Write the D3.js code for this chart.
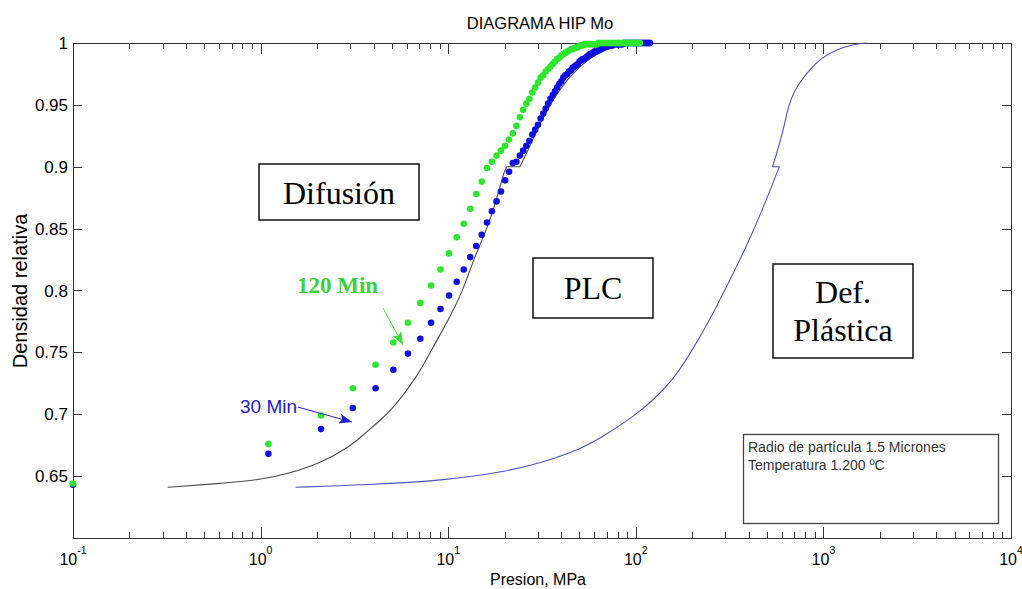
<!DOCTYPE html>
<html>
<head>
<meta charset="utf-8">
<script src="https://cdn.jsdelivr.net/npm/d3@7"></script>
<style>
body { margin: 0; background: #fff; }
text { font-family: "Liberation Sans", Arial, sans-serif; }
text.serif { font-family: "Liberation Serif", "Times New Roman", serif; }
</style>
</head>
<body>
<div id="chart"></div>
<script>
var width = 1022;
var height = 589;
var plotLeft = 73, plotRight = 1011, plotTop = 43, plotBottom = 538;

// pressures of the measured points, MPa
var pressures = [0.1, 1.1, 2.1, 3.1, 4.1, 5.1, 6.1, 7.1, 8.1, 9.1,
	10.1, 11.1, 12.1, 13.1, 14.1, 15.1, 16.1, 17.1, 18.1, 19.1,
	20.1, 21.1, 22.1, 23.1, 24.1, 25.1, 26.1, 27.1, 28.1, 29.1,
	30.1, 31.1, 32.1, 33.1, 34.1, 35.1, 36.1, 37.1, 38.1, 39.1,
	40.1, 41.1, 42.1, 43.1, 44.1, 45.1, 46.1, 47.1, 48.1, 49.1,
	50.1, 51.1, 52.1, 53.1, 54.1, 55.1, 56.1, 57.1, 58.1, 59.1,
	60.1, 61.1, 62.1, 63.1, 64.1, 65.1, 66.1, 67.1, 68.1, 69.1,
	70.1, 71.1, 72.1, 73.1, 74.1, 75.1, 76.1, 77.1, 78.1, 79.1,
	80.1, 81.1, 82.1, 83.1, 84.1, 85.1, 86.1, 87.1, 88.1, 89.1,
	90.1, 91.1, 92.1, 93.1, 94.1, 95.1, 96.1, 97.1, 98.1, 99.1,
	100.1, 101.1, 102.1, 103.1, 104.1, 105.1, 106.1, 107.1, 108.1, 109.1,
	110.1, 111.1, 112.1, 113.1, 114.1, 115.1, 116.1, 117.1, 118.1, 119.1];

// relative density, 120 min (green dots)
var dens120 = [0.644, 0.676, 0.699, 0.721, 0.740, 0.758, 0.774, 0.790, 0.804, 0.817,
	0.830, 0.843, 0.854, 0.866, 0.878, 0.888, 0.899, 0.904, 0.909, 0.913,
	0.917, 0.922, 0.927, 0.933, 0.940, 0.946, 0.951, 0.955, 0.960, 0.964,
	0.968, 0.972, 0.974, 0.977, 0.979, 0.981, 0.983, 0.985, 0.987, 0.988,
	0.990, 0.991, 0.992, 0.993, 0.994, 0.995, 0.995, 0.996, 0.996, 0.997,
	0.998, 0.998, 0.998, 0.999, 0.999, 0.999, 0.999, 0.999, 0.999, 0.999,
	0.999, 0.999, 0.999, 1, 1, 1, 1, 1, 1, 1,
	1, 1, 1, 1, 1, 1, 1, 1, 1, 1,
	1, 1, 1, 1, 1, 1, 1, 1, 1, 1,
	1, 1, 1, 1, 1, 1, 1, 1, 1, 1,
	1, 1, 1, 1, 1, 1];

// relative density, 30 min (blue dots)
var dens30 = [0.643, 0.668, 0.688, 0.705, 0.721, 0.736, 0.749, 0.761, 0.774, 0.785,
	0.796, 0.807, 0.817, 0.827, 0.836, 0.845, 0.855, 0.864, 0.872, 0.880,
	0.889, 0.896, 0.903, 0.904, 0.909, 0.913, 0.917, 0.921, 0.926, 0.930,
	0.934, 0.939, 0.943, 0.947, 0.951, 0.955, 0.958, 0.961, 0.964, 0.967,
	0.969, 0.972, 0.974, 0.975, 0.977, 0.978, 0.980, 0.981, 0.982, 0.983,
	0.985, 0.986, 0.987, 0.987, 0.988, 0.989, 0.990, 0.991, 0.991, 0.992,
	0.993, 0.993, 0.994, 0.994, 0.995, 0.995, 0.996, 0.996, 0.997, 0.997,
	0.997, 0.998, 0.998, 0.998, 0.998, 0.998, 0.999, 0.999, 0.999, 0.999,
	0.999, 0.999, 0.999, 0.999, 0.999, 0.999, 1, 1, 1, 1,
	1, 1, 1, 1, 1, 1, 1, 1, 1, 1,
	1, 1, 1, 1, 1, 1, 1, 1, 1, 1,
	1, 1, 1, 1, 1, 1, 1, 1, 1, 1];

// black boundary curve (difusion / PLC), lower part up to the step at 0.9, then upper part
var plcLow = [[0.32, 0.641], [0.56, 0.6436], [1.0, 0.6469], [1.43, 0.6523], [2.07, 0.6603],
	[3.0, 0.6738], [3.68, 0.6859], [4.16, 0.6926], [5.1, 0.7048], [6.93, 0.7317],
	[8.32, 0.7545], [10, 0.776], [12, 0.80], [13.6, 0.8246], [16, 0.8488],
	[18.1, 0.873], [19.7, 0.8946], [20.5, 0.900]];
var plcHigh = [[24.1, 0.900], [26.2, 0.911], [32.1, 0.9406], [37.9, 0.9594], [48.4, 0.9798],
	[64.4, 0.9933], [79.1, 0.9973], [85.5, 0.9992], [96.6, 1.0]];

// blue boundary curve (PLC / plastic deformation), split at the step near 0.9
var plasticLow = [[1.54, 0.641], [3.68, 0.6428], [10, 0.6469], [18.9, 0.6528], [30.8, 0.6603],
	[52.5, 0.6725], [70, 0.684], [97, 0.698], [124, 0.7115], [158, 0.7276],
	[203, 0.7532], [259, 0.7815], [423, 0.846], [582, 0.900]];
var plasticHigh = [[536, 0.900], [607, 0.9269], [642, 0.9457], [691, 0.9605], [798, 0.974],
	[959, 0.9879], [1277, 0.9973], [1632, 1.0], [1700, 1.0]];

var yTicks = [0.65, 0.7, 0.75, 0.8, 0.85, 0.9, 0.95, 1];
var yTickLabels = ["0.65", "0.7", "0.75", "0.8", "0.85", "0.9", "0.95", "1"];
var xDecades = [-1, 0, 1, 2, 3, 4];

//colors
var green = '#2fe62f';
var blue = '#1010dd';
var plcColor = '#4a4a4a';
var plasticColor = '#5252c0';
var labelBlue = '#2020cc';

var svg = d3.select("#chart")
	.append("svg")
	.attr("width", width)
	.attr("height", height)
	.style("background", "#fff");

var x = d3.scaleLog().domain([0.1, 10000]).range([plotLeft, plotRight]);
var y = d3.scaleLinear().domain([0.6, 1]).range([plotBottom, plotTop]);

// title and axis labels
svg.append("text")
	.attr("x", 540).attr("y", 29)
	.attr("text-anchor", "middle")
	.style("font-size", "16.5px")
	.text("DIAGRAMA HIP Mo");

svg.append("text")
	.attr("x", 538).attr("y", 585)
	.attr("text-anchor", "middle")
	.style("font-size", "16px")
	.text("Presion, MPa");

svg.append("text")
	.attr("transform", "translate(27,291) rotate(-90)")
	.attr("text-anchor", "middle")
	.style("font-size", "20px")
	.text("Densidad relativa");

/******************** AXES ********************/
var axes = svg.append("g").attr("stroke", "#333").attr("stroke-width", 1);

var minor = [];
xDecades.slice(0, -1).forEach(function(d) {
	for (var m = 2; m <= 9; m++) minor.push(m * Math.pow(10, d));
});

xDecades.forEach(function(d) {
	var px = Math.round(x(Math.pow(10, d))) + 0.5;
	axes.append("line").attr("x1", px).attr("x2", px).attr("y1", plotBottom).attr("y2", plotBottom - 11);
	axes.append("line").attr("x1", px).attr("x2", px).attr("y1", plotTop).attr("y2", plotTop + 11);
});
minor.forEach(function(v) {
	var px = Math.round(x(v)) + 0.5;
	axes.append("line").attr("x1", px).attr("x2", px).attr("y1", plotBottom).attr("y2", plotBottom - 6);
	axes.append("line").attr("x1", px).attr("x2", px).attr("y1", plotTop).attr("y2", plotTop + 6);
});
yTicks.forEach(function(v) {
	var py = Math.round(y(v)) + 0.5;
	axes.append("line").attr("x1", plotLeft).attr("x2", plotLeft + 9).attr("y1", py).attr("y2", py);
	axes.append("line").attr("x1", plotRight).attr("x2", plotRight - 9).attr("y1", py).attr("y2", py);
});

axes.append("rect")
	.attr("x", plotLeft + 0.5).attr("y", plotTop + 0.5)
	.attr("width", plotRight - plotLeft).attr("height", plotBottom - plotTop)
	.attr("fill", "none");

// tick labels
svg.selectAll(".ylab")
	.data(yTicks)
	.enter().append("text")
	.attr("class", "ylab")
	.attr("x", plotLeft - 5)
	.attr("y", function(d) { return y(d) + 6; })
	.attr("text-anchor", "end")
	.style("font-size", "17px")
	.text(function(d, i) { return yTickLabels[i]; });

var xl = svg.selectAll(".xlab")
	.data(xDecades)
	.enter().append("text")
	.attr("class", "xlab")
	.attr("x", function(d) { return x(Math.pow(10, d)); })
	.attr("y", 565)
	.attr("text-anchor", "middle")
	.style("font-size", "16px");
xl.append("tspan").text("10");
xl.append("tspan")
	.attr("dy", -11)
	.style("font-size", "10.5px")
	.text(function(d) { return d; });

/******************** CURVES ********************/
var lineGen = d3.line()
	.x(function(d) { return x(d[0]); })
	.y(function(d) { return y(d[1]); })
	.curve(d3.curveBasis);

//join two smoothed parts with a straight step between them
function joined(a, b) {
	return lineGen(a) + lineGen(b).replace(/^M/, "L");
}

svg.append("path")
	.attr("d", joined(plcLow, plcHigh))
	.attr("fill", "none")
	.attr("stroke", plcColor)
	.attr("stroke-width", 1.1);

svg.append("path")
	.attr("d", joined(plasticLow, plasticHigh))
	.attr("fill", "none")
	.attr("stroke", plasticColor)
	.attr("stroke-width", 1.1);

/******************** DOTS ********************/
var pts30 = dens30.map(function(v, i) { return [pressures[i], v]; });
var pts120 = dens120.map(function(v, i) { return [pressures[i], v]; });

svg.append("g").selectAll("circle")
	.data(pts30)
	.enter().append("circle")
	.attr("cx", function(d) { return x(d[0]); })
	.attr("cy", function(d) { return y(d[1]); })
	.attr("r", 3.3)
	.attr("fill", blue);

svg.append("g").selectAll("circle")
	.data(pts120)
	.enter().append("circle")
	.attr("cx", function(d) { return x(d[0]); })
	.attr("cy", function(d) { return y(d[1]); })
	.attr("r", 3.3)
	.attr("fill", green);

/******************** ANNOTATIONS ********************/
var defs = svg.append("defs");
function arrowHead(id, color) {
	defs.append("marker")
		.attr("id", id)
		.attr("markerUnits", "userSpaceOnUse")
		.attr("markerWidth", 14).attr("markerHeight", 10)
		.attr("refX", 13).attr("refY", 5)
		.attr("orient", "auto")
		.append("path")
		.attr("d", "M0,0 L13,5 L0,10 L3,5 Z")
		.attr("fill", color);
}
arrowHead("arrGreen", green);
arrowHead("arrBlue", labelBlue);

// arrows in data coordinates [pressure, density]
var arrow120 = [[4.49, 0.7858], [5.74, 0.7562]];
var arrow30 = [[1.58, 0.7058], [3.07, 0.6937]];

svg.append("line")
	.attr("x1", x(arrow120[0][0])).attr("y1", y(arrow120[0][1]))
	.attr("x2", x(arrow120[1][0])).attr("y2", y(arrow120[1][1]))
	.attr("stroke", green).attr("stroke-width", 1)
	.attr("marker-end", "url(#arrGreen)");

svg.append("line")
	.attr("x1", x(arrow30[0][0])).attr("y1", y(arrow30[0][1]))
	.attr("x2", x(arrow30[1][0])).attr("y2", y(arrow30[1][1]))
	.attr("stroke", labelBlue).attr("stroke-width", 1)
	.attr("marker-end", "url(#arrBlue)");

svg.append("text")
	.attr("class", "serif")
	.attr("x", 297).attr("y", 293)
	.style("font-size", "23px")
	.style("font-weight", "bold")
	.attr("fill", "#3ad43a")
	.text("120 Min");

svg.append("text")
	.attr("x", 240).attr("y", 413)
	.style("font-family", "'Liberation Sans', Arial, sans-serif")
	.style("font-size", "19px")
	.attr("fill", labelBlue)
	.text("30 Min");

// region boxes
function regionBox(x0, y0, x1, y1, lines, baseline) {
	svg.append("rect")
		.attr("x", x0).attr("y", y0)
		.attr("width", x1 - x0).attr("height", y1 - y0)
		.attr("fill", "#fff")
		.attr("stroke", "#111")
		.attr("stroke-width", 1.5);
	lines.forEach(function(t, i) {
		svg.append("text")
			.attr("class", "serif")
			.attr("x", (x0 + x1) / 2)
			.attr("y", baseline + i * 38)
			.attr("text-anchor", "middle")
			.style("font-size", "32px")
			.text(t);
	});
}
regionBox(259, 164, 419, 220, ["Difusión"], 204);
regionBox(533, 258, 653, 318, ["PLC"], 299);
regionBox(773, 264, 913, 358, ["Def.", "Plástica"], 303);

// info box
svg.append("rect")
	.attr("x", 743.5).attr("y", 434.5)
	.attr("width", 255).attr("height", 89)
	.attr("fill", "#fff")
	.attr("stroke", "#444")
	.attr("stroke-width", 1.3);
svg.append("text")
	.attr("x", 748).attr("y", 452)
	.style("font-size", "14px")
	.attr("fill", "#333")
	.text("Radio de partícula 1.5 Micrones");
svg.append("text")
	.attr("x", 748).attr("y", 470)
	.style("font-size", "14px")
	.attr("fill", "#333")
	.text("Temperatura 1.200 ºC");
</script>
</body>
</html>
